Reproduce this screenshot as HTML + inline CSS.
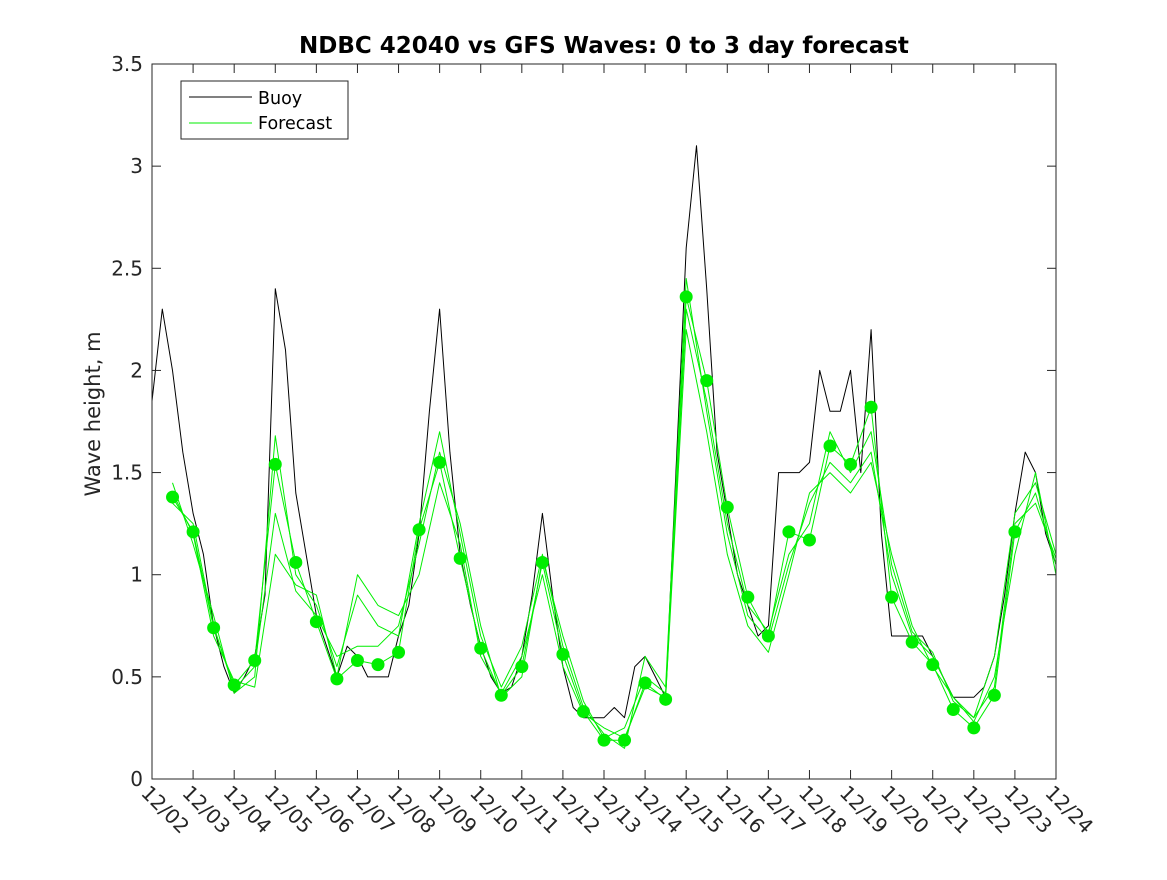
<!DOCTYPE html>
<html><head><meta charset="utf-8"><style>
body{margin:0;background:#fff}
svg text{font-family:"DejaVu Sans","Liberation Sans",sans-serif;fill:#262626}
</style></head><body>
<svg id="chart" width="1167" height="875" xmlns="http://www.w3.org/2000/svg">
<rect width="1167" height="875" fill="#fff"/>
<text x="604" y="53" text-anchor="middle" font-size="23" font-weight="bold" style="fill:#000">NDBC 42040 vs GFS Waves: 0 to 3 day forecast</text>
<text transform="translate(100,414) rotate(-90)" text-anchor="middle" font-size="21">Wave height, m</text>
<g id="plot"></g>
<g id="axes"></g>
<g>
<rect x="181" y="81" width="167" height="58" fill="#fff" stroke="#262626" stroke-width="1"/>
<line x1="189" y1="97" x2="252" y2="97" stroke="#000"/>
<text x="258" y="104" font-size="17.5" style="fill:#000">Buoy</text>
<line x1="189" y1="123" x2="252" y2="123" stroke="#00ee00"/>
<text x="258" y="129" font-size="17.5" style="fill:#000">Forecast</text>
</g>
</svg>
<script>
const xTickLabels=["12/02","12/03","12/04","12/05","12/06","12/07","12/08","12/09","12/10","12/11","12/12","12/13","12/14","12/15","12/16","12/17","12/18","12/19","12/20","12/21","12/22","12/23","12/24"];
const yTicks=[0,0.5,1,1.5,2,2.5,3,3.5];
const yTickLabels=["0","0.5","1","1.5","2","2.5","3","3.5"];
const buoyStep=0.25;
const buoy=[1.85,2.3,2.0,1.6,1.3,1.1,0.75,0.55,0.42,0.5,0.6,0.9,2.4,2.1,1.4,1.1,0.8,0.65,0.5,0.65,0.6,0.5,0.5,0.5,0.7,0.85,1.2,1.8,2.3,1.6,1.1,0.85,0.65,0.5,0.42,0.45,0.6,0.9,1.3,0.9,0.55,0.35,0.3,0.3,0.3,0.35,0.3,0.55,0.6,0.5,0.4,1.5,2.6,3.1,2.4,1.6,1.3,1.0,0.85,0.7,0.75,1.5,1.5,1.5,1.55,2.0,1.8,1.8,2.0,1.5,2.2,1.2,0.7,0.7,0.7,0.7,0.6,0.5,0.4,0.4,0.4,0.45,0.6,0.9,1.3,1.6,1.5,1.2,1.05];
const fcStart=0.5, fcStep=0.5;
const fc1=[1.38,1.21,0.74,0.46,0.58,1.54,1.06,0.77,0.49,0.58,0.56,0.62,1.22,1.55,1.08,0.64,0.41,0.55,1.06,0.61,0.33,0.19,0.19,0.47,0.39,2.36,1.95,1.33,0.89,0.70,1.21,1.17,1.63,1.54,1.82,0.89,0.67,0.56,0.34,0.25,0.41,1.21,1.4,1.05];
const fc2=[1.45,1.15,0.8,0.42,0.5,1.68,1.0,0.85,0.55,0.9,0.75,0.7,1.25,1.7,1.2,0.7,0.45,0.65,1.1,0.65,0.35,0.22,0.15,0.6,0.45,2.45,1.8,1.2,0.8,0.68,1.05,1.35,1.55,1.45,1.6,1.0,0.7,0.6,0.4,0.3,0.6,1.3,1.45,1.1];
const fc3=[1.4,1.2,0.7,0.48,0.45,1.1,0.95,0.9,0.5,1.0,0.85,0.8,1.0,1.45,1.15,0.6,0.42,0.6,1.0,0.55,0.32,0.25,0.2,0.45,0.4,2.2,1.7,1.1,0.75,0.62,1.0,1.4,1.5,1.4,1.55,1.1,0.75,0.55,0.4,0.28,0.5,1.1,1.5,1.0];
const fc4=[1.35,1.25,0.75,0.44,0.55,1.3,0.92,0.8,0.6,0.65,0.65,0.75,1.15,1.6,1.25,0.75,0.4,0.5,1.08,0.7,0.38,0.2,0.25,0.5,0.42,2.3,1.85,1.25,0.85,0.72,1.1,1.25,1.7,1.5,1.7,1.05,0.72,0.62,0.38,0.3,0.45,1.25,1.35,1.08];
const dotDays=[0.5,1,1.5,2,2.5,3,3.5,4,4.5,5,5.5,6,6.5,7,7.5,8,8.5,9,9.5,10,10.5,11,11.5,12,12.5,13,13.5,14,14.5,15,15.5,16,16.5,17,17.5,18,18.5,19,19.5,20,20.5,21];
const dotVals=[1.38,1.21,0.74,0.46,0.58,1.54,1.06,0.77,0.49,0.58,0.56,0.62,1.22,1.55,1.08,0.64,0.41,0.55,1.06,0.61,0.33,0.19,0.19,0.47,0.39,2.36,1.95,1.33,0.89,0.70,1.21,1.17,1.63,1.54,1.82,0.89,0.67,0.56,0.34,0.25,0.41,1.21];

const L=152,R=1056,T=64,B=779,NS="http://www.w3.org/2000/svg";
const xS=d=>L+d*(R-L)/22;
const yS=v=>B-v*(B-T)/3.5;
const plot=document.getElementById('plot'),axes=document.getElementById('axes');
function mk(tag,attrs,parent){const e=document.createElementNS(NS,tag);for(const k in attrs)e.setAttribute(k,attrs[k]);parent.appendChild(e);return e;}
function line(vals,start,step,color,w,name){
  const pts=vals.map((v,i)=>xS(start+i*step).toFixed(1)+','+yS(v).toFixed(1)).join(' ');
  const p=mk('polyline',{points:pts,fill:'none',stroke:color,'stroke-width':w,'stroke-linejoin':'round'},plot);
  
  
}
line(buoy,0,buoyStep,'#000',1,'buoy-line');
[fc1,fc2,fc3,fc4].forEach((f,i)=>line(f,fcStart,fcStep,'#00ee00',1,'forecast-line-'+(i+1)));
dotDays.forEach((d,i)=>{
  const c=mk('circle',{cx:xS(d),cy:yS(dotVals[i]),r:6.5,fill:'#00ee00'},plot);
  
  
});
const fr=mk('rect',{x:L,y:T,width:R-L,height:B-T,fill:'none',stroke:'#262626','stroke-width':1},axes);


xTickLabels.forEach((lab,i)=>{
  const x=xS(i);
  mk('line',{x1:x,y1:B,x2:x,y2:B-9,stroke:'#262626'},axes);
  mk('line',{x1:x,y1:T,x2:x,y2:T+9,stroke:'#262626'},axes);
  const t=mk('text',{transform:`translate(${x-12},${794}) rotate(45)`,'font-size':20},axes);
  t.textContent=lab;
  
  
});
yTicks.forEach((v,i)=>{
  const y=yS(v);
  mk('line',{x1:L,y1:y,x2:L+9,y2:y,stroke:'#262626'},axes);
  mk('line',{x1:R,y1:y,x2:R-9,y2:y,stroke:'#262626'},axes);
  const t=mk('text',{x:L-9,y:y+7,'text-anchor':'end','font-size':20},axes);
  t.textContent=yTickLabels[i];
  
  
});
</script>
</body></html>
